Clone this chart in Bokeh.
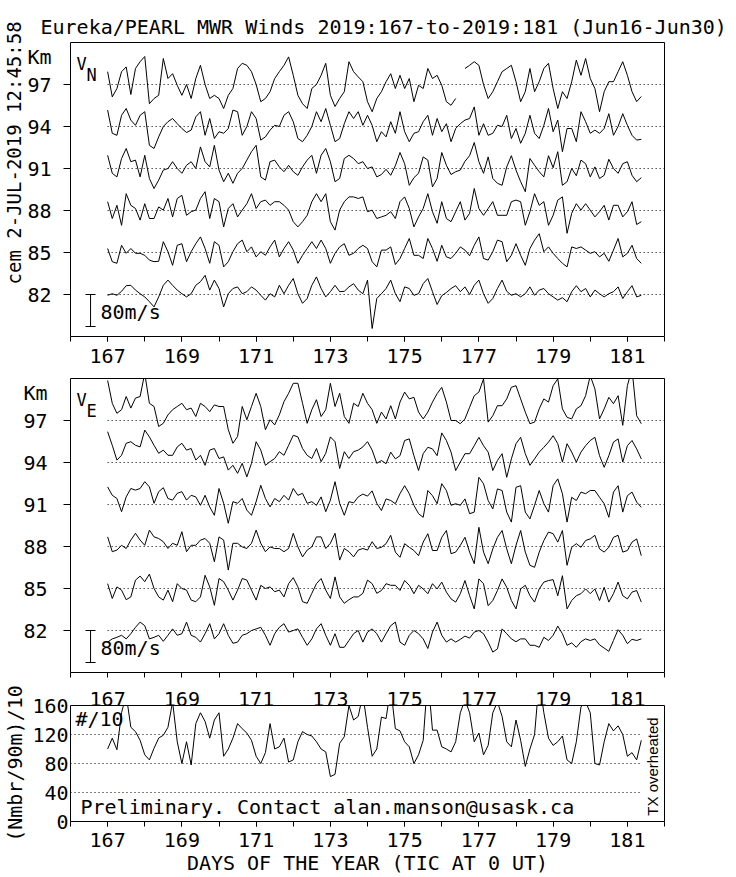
import numpy as np
from bokeh.plotting import figure
from bokeh.layouts import column
from bokeh.models import FixedTicker, Label, Range1d, LinearAxis, Title
from bokeh.embed import file_html
from bokeh.resources import INLINE

NaN = float("nan")

# ---------------- texts ----------------
TITLE = "Eureka/PEARL MWR Winds 2019:167-to-2019:181 (Jun16-Jun30)"
STAMP = "cem 2-JUL-2019 12:45:58"
X_TITLE = "DAYS OF THE YEAR (TIC AT 0 UT)"
COUNT_LABEL = "(Nmbr/90m)/10"
NOTE = "Preliminary. Contact alan.manson@usask.ca"
TX_NOTE = "TX overheated"
KM_LABEL = "Km"

# ---------------- axes / ticks ----------------
HEIGHTS_KM = [97, 94, 91, 88, 85, 82]
KM_LABEL_AT = 99
DAY_TICKS = [167, 169, 171, 173, 175, 177, 179, 181]
DAY_MINOR = list(range(166, 183))
COUNT_TICKS = [0, 40, 80, 120, 160]
COUNT_GRID = [40, 80, 120]
FIRST_DAY = 167.0
STEP_HOURS = 3          # samples read every 3 hours
SCALE_MS = 80           # scale bar 80 m/s
MS_PER_KM = 35.0        # 80 m/s spans 80/35 km of the height axis

# ---------------- V_N (m/s), 3-hourly from day 167.0 ----------------
VN_97 = [32,-31,-10,32,44,-25,40,57,70,-48,-35,-27,65,15,27,-2,-27,0,-35,15,
         48,0,-35,-27,-35,-60,-27,-10,40,53,48,32,0,-43,-35,-18,15,32,48,69,
         23,-27,-48,-60,-10,0,23,53,-27,-55,-35,-18,57,32,19,7,-43,-68,-35,
         -18,7,27,-10,23,-10,15,-43,-2,-10,40,15,23,-2,-43,-52,-35,NaN,40,48,
         57,48,0,-35,-18,7,32,40,48,7,-43,-18,40,-18,7,40,53,-10,-60,-18,
         -35,7,61,23,65,15,-10,-68,-18,7,7,32,57,23,-18,-43,-30]
VN_94 = [41,-17,-22,28,45,16,3,28,37,-47,-55,-26,0,12,20,7,-5,-15,-9,24,
         37,-22,20,-30,-13,-17,-5,41,37,-22,0,37,20,-34,-26,-9,3,0,28,37,
         12,-30,-38,-22,0,37,12,45,3,-38,-30,7,37,20,37,3,28,3,-38,
         -13,-26,12,-17,37,-13,-38,-17,-13,12,28,-22,20,-13,7,-38,-5,7,16,20,
         49,-22,7,-22,-17,3,0,28,-30,-5,-42,-17,28,-17,-30,3,45,-13,16,-63,
         -5,-5,-38,37,12,-17,-9,-17,-5,32,-22,0,32,3,-22,-34,-32]
VN_91 = [33,-12,-21,25,50,17,21,-21,33,-25,-50,-29,-4,0,17,0,-12,8,17,0,
         54,17,4,58,-4,-33,-12,-37,-12,0,21,42,58,-21,-29,17,21,4,-8,8,
         -8,-17,4,21,33,-12,33,50,17,-33,-25,25,33,25,12,17,0,4,-21,
         -15,-2,-17,7,40,12,-42,-23,-12,29,21,-46,-25,40,8,-15,-8,-4,18,32,
         65,17,-12,29,-25,-37,-42,4,32,-4,-33,-58,25,8,-8,-21,32,2,42,-42,
         -33,0,-18,21,12,-21,4,-25,-17,23,0,-12,12,17,-17,-33,-23]
VN_88 = [22,-20,13,-37,42,13,5,-24,17,-20,-20,9,1,30,-16,30,38,-12,-3,1,
         30,47,-20,30,22,-41,5,17,-16,1,17,42,5,22,26,13,22,22,13,1,
         -28,-41,-28,-12,22,42,22,42,-28,-49,1,22,34,34,30,34,-3,1,-20,
         -16,-12,-3,-20,22,34,5,-41,-16,5,42,-3,-32,22,-20,-28,-3,22,-24,-7,
         55,5,-12,5,22,-12,-12,-12,22,26,22,-37,-3,42,13,22,-37,-12,26,34,
         -57,-7,17,1,17,1,-16,-3,13,-24,13,13,-16,-3,22,-35,-28]
VN_85 = [10,-23,-27,18,-2,10,-2,-2,-7,-19,-23,-22,27,2,-32,18,22,-23,2,22,
         39,10,-27,27,18,-36,-23,2,22,31,2,14,-11,2,-7,14,31,-11,10,27,
         6,-27,-7,10,27,10,31,10,-27,-2,14,22,-7,-2,10,18,10,-23,-36,
         6,6,14,-30,-15,10,35,-7,-7,-15,35,10,-22,18,-11,-15,-2,14,6,-8,
         18,39,-15,-19,2,31,27,-23,-7,22,-7,-32,10,31,47,2,14,-2,-15,-27,
         -36,14,10,14,6,-2,2,-11,-2,-22,6,35,-11,-2,18,-15,-27]
VN_82 = [-2,2,-2,8,22,23,11,2,-6,-18,-31,-6,23,36,23,11,2,-6,2,23,
         32,48,11,36,15,-31,2,15,19,2,7,19,11,-2,-14,2,-6,23,2,23,
         40,2,-22,-10,23,44,15,-6,7,23,7,8,19,27,11,2,36,-85,-10,
         2,15,36,2,-18,19,15,-2,2,27,40,7,-25,-3,5,15,22,7,19,0,
         23,36,2,-22,-10,15,36,8,-2,2,-6,2,19,-2,11,15,2,-6,-14,-8,
         -18,7,22,7,15,-6,11,2,-6,2,7,19,-10,7,22,-6,-2]

# ---------------- V_E (m/s), 3-hourly from day 167.0 ----------------
VE_97 = [100,43,18,27,60,31,56,60,118,43,35,-15,-7,14,27,35,43,27,31,10,
         43,35,22,39,35,35,-23,-57,-40,35,2,35,68,35,-23,2,-11,14,47,68,
         93,93,43,-7,27,52,10,27,93,35,68,10,-7,43,35,68,43,27,-7,
         21,4,37,4,46,71,54,58,21,4,21,46,67,83,46,0,0,-8,4,33,
         62,71,104,-4,12,37,37,54,83,87,54,21,-8,-4,29,54,46,87,104,29,
         8,4,29,37,62,112,79,4,29,58,42,62,-12,87,129,12,-8]
VE_94 = [77,43,6,18,48,52,43,39,81,64,43,23,31,18,18,39,48,31,35,6,
         18,-7,31,35,10,14,-19,-7,-27,-2,-36,-2,52,31,-7,2,10,27,18,43,
         68,64,35,18,10,35,2,23,64,52,-15,27,10,27,31,39,52,31,-2,
         5,-3,26,9,17,55,59,17,-20,22,38,34,17,74,55,26,-20,1,22,22,
         42,63,42,26,-20,5,22,-37,9,47,63,22,-7,9,26,38,51,67,47,1,
         47,26,1,26,42,55,63,17,-12,17,51,59,1,42,55,34,9]
VE_91 = [44,23,15,-18,19,40,36,40,57,44,3,32,42,15,11,28,32,11,23,19,
         -2,23,-6,-27,40,3,-47,7,3,15,-14,-27,7,48,15,-6,15,7,23,11,
         40,23,28,3,7,-2,19,-18,11,57,3,-27,7,4,19,26,21,34,3,
         -15,14,10,2,27,47,27,-2,-23,-32,35,22,2,52,35,-2,2,-2,14,-23,
         -19,68,52,10,-11,39,35,-19,-44,43,47,-19,-36,-2,35,2,-19,47,64,27,
         -44,18,10,31,27,35,35,18,2,-32,31,47,-19,22,31,6,-7]
VE_88 = [24,-13,-9,3,-5,16,33,16,3,41,24,20,12,-5,8,3,37,-13,3,3,
         16,20,8,-38,24,16,-59,8,8,-1,-5,8,41,8,-13,-1,-5,-5,-13,-5,
         33,-1,-26,-9,-1,24,24,-5,8,33,-34,-5,-13,-26,-9,-5,-9,12,-5,
         -2,7,28,-14,-27,7,-2,-10,-23,11,32,-10,-10,23,40,-18,-14,3,23,-14,
         -43,48,-14,-43,-6,23,40,-6,-43,3,40,-14,-47,-52,-14,15,36,32,11,40,
         -47,-2,7,-2,15,19,28,-6,-14,-2,23,28,-14,-10,11,19,-23]
VE_85 = [12,-25,4,-4,-28,-21,21,31,17,36,0,-21,-29,-4,-33,12,0,-4,-29,-33,
         -21,33,4,-42,25,17,-4,-29,-4,25,21,-4,-29,8,0,4,-8,-4,-21,12,
         27,4,-33,-37,-12,12,25,-4,-25,29,-21,-37,-28,-21,-21,-12,21,12,-12,
         -5,12,8,8,-5,20,8,-13,8,-1,-13,12,-1,16,-9,-26,-34,-13,20,-18,
         -51,24,12,-43,-30,-5,24,3,-30,-51,-1,8,-18,-34,-1,16,20,22,-18,32,
         -51,-30,-18,-13,-1,-13,-1,-30,3,-34,-13,16,-18,-26,-9,-5,-34]
VE_82 = [-29,-21,-17,-12,-21,-8,8,21,12,-21,-17,-12,-27,-12,4,-12,-8,21,-12,-17,
         -29,-8,17,-21,-8,17,-12,-32,-29,-12,-8,0,4,8,-12,-37,-8,8,17,-4,
         0,4,-17,-37,-21,4,17,-12,-37,-8,-42,-42,-25,-8,0,-29,-4,4,-8,
         -29,-8,12,21,-29,-37,-12,0,-8,-21,-45,-4,21,-12,-29,-21,-29,-22,-14,-19,
         -4,0,-8,-29,-54,-46,4,-8,-21,-28,-21,-21,-37,-37,-42,-17,-25,-12,11,-8,
         -37,-31,-42,-28,-21,-25,-21,-36,-44,-52,-25,2,-12,-33,-22,-25,-21]

# ---------------- counts (#/10), 3-hourly from day 167.0 ----------------
COUNTS = [100,115,99,150,175,130,124,112,92,85,101,115,119,130,165,110,80,110,78,135,
          150,138,115,140,150,90,100,115,135,128,122,112,90,80,95,135,100,103,115,82,
          85,110,124,120,118,110,100,96,62,65,108,117,160,140,145,175,130,90,100,
          144,142,185,128,125,110,103,80,92,112,200,126,126,103,100,96,110,150,168,150,
          110,122,92,105,150,165,145,110,103,140,112,76,100,120,195,150,115,105,110,118,
          85,80,110,158,165,150,80,78,110,135,125,132,120,90,95,85,112]

VN_SERIES = [VN_97, VN_94, VN_91, VN_88, VN_85, VN_82]
VE_SERIES = [VE_97, VE_94, VE_91, VE_88, VE_85, VE_82]

FONT = "DejaVu Sans Mono"
FS = "20px"

times = FIRST_DAY + np.arange(len(COUNTS)) * STEP_HOURS / 24.0


def make_fig(height, top, bottom, y_range):
    p = figure(width=736, height=height, x_range=Range1d(166, 182), y_range=y_range,
               output_backend="svg", toolbar_location=None, tools="", title=None,
               min_border_left=70, min_border_right=72,
               min_border_top=top, min_border_bottom=bottom)
    p.outline_line_color = "black"
    p.outline_line_alpha = 1.0
    p.outline_line_width = 1
    p.xgrid.visible = False
    p.ygrid.visible = False
    p.background_fill_color = "white"
    p.border_fill_color = "white"
    return p


def style_axis(ax, tick_out, standoff, minor_out=None):
    ax.axis_line_color = None
    ax.major_tick_out = tick_out
    ax.major_tick_in = 0
    ax.minor_tick_out = tick_out if minor_out is None else minor_out
    ax.minor_tick_in = 0
    ax.major_tick_line_color = "black"
    ax.minor_tick_line_color = "black"
    ax.major_label_standoff = standoff
    ax.major_label_text_font = FONT
    ax.major_label_text_font_size = FS
    ax.major_label_text_color = "black"
    ax.axis_label_text_font = FONT
    ax.axis_label_text_font_size = FS
    ax.axis_label_text_font_style = "normal"
    ax.axis_label_text_color = "black"


def add_text(p, text, x, y, size=FS, font=FONT, align="left", angle=0.0):
    p.add_layout(Label(x=x, y=y, x_units="screen", y_units="screen", text=text,
                       text_font=font, text_font_size=size, text_align=align,
                       text_baseline="middle", angle=angle, text_color="black"))


def wind_panel(height, top, bottom, series, sub, x_labels, x_standoff, y_standoff):
    p = make_fig(height, top, bottom, Range1d(79, 100))
    n = len(HEIGHTS_KM)
    p.segment(x0=[FIRST_DAY] * n, x1=[p.x_range.end] * n, y0=HEIGHTS_KM, y1=HEIGHTS_KM,
              line_color="black", line_width=1, line_dash="1 3")
    for h, v in zip(HEIGHTS_KM, series):
        p.line(times, h + np.asarray(v, dtype=float) / MS_PER_KM,
               line_color="black", line_width=1)
    # 80 m/s scale bar hanging from the lowest height
    base = HEIGHTS_KM[-1]
    low = base - SCALE_MS / MS_PER_KM
    xb, cap = 166.54, 0.135
    p.segment(x0=[xb, xb - cap, xb - cap], x1=[xb, xb + cap, xb + cap],
              y0=[base, base, low], y1=[low, base, low], line_color="black", line_width=1)
    add_text(p, f"{SCALE_MS}m/s", 30, 25)
    # x axis: day tics (labels only when asked)
    if x_labels:
        p.xaxis.ticker = FixedTicker(ticks=DAY_TICKS, minor_ticks=DAY_MINOR)
        style_axis(p.xaxis[0], 5, x_standoff)
    else:
        p.xaxis.ticker = FixedTicker(ticks=[], minor_ticks=DAY_MINOR)
        style_axis(p.xaxis[0], 0, 0, minor_out=5)
    # y axis: labels at heights + "Km" caption, tic marks only at heights
    p.yaxis.ticker = FixedTicker(ticks=HEIGHTS_KM + [KM_LABEL_AT], minor_ticks=HEIGHTS_KM)
    style_axis(p.yaxis[0], 0, y_standoff, minor_out=7)
    p.yaxis.major_label_overrides = {KM_LABEL_AT: KM_LABEL}
    # component label
    add_text(p, "V", 6, 273, size="17px")
    add_text(p, sub, 16, 262, size="17px")
    return p


# ---------------- panel 1: V_N ----------------
p1 = wind_panel(370, 42, 34, VN_SERIES, "N", True, 7, 12)
p1.add_layout(Title(text=TITLE, align="left", offset=-30, standoff=8,
                    text_font=FONT, text_font_size=FS, text_font_style="normal",
                    text_color="black"), "above")
p1.add_layout(Title(text=STAMP, align="left", offset=52, standoff=0,
                    text_font=FONT, text_font_size="19px", text_font_style="normal",
                    text_color="black"), "left")

# ---------------- panel 2: V_E ----------------
p2 = wind_panel(312, 8, 10, VE_SERIES, "E", False, 0, 16)

# ---------------- panel 3: counts ----------------
p3 = make_fig(195, 23, 54, Range1d(0, 160))
p3.segment(x0=[p3.x_range.start] * len(COUNT_GRID), x1=[times[-1]] * len(COUNT_GRID),
           y0=COUNT_GRID, y1=COUNT_GRID, line_color="black", line_width=1, line_dash="1 3")
p3.line(times, COUNTS, line_color="black", line_width=1)
p3.xaxis.ticker = FixedTicker(ticks=DAY_TICKS, minor_ticks=DAY_MINOR)
style_axis(p3.xaxis[0], 5, 6)
p3.xaxis.axis_label = X_TITLE
p3.xaxis.axis_label_standoff = 1
top_axis = LinearAxis(ticker=FixedTicker(ticks=DAY_TICKS, minor_ticks=[]))
style_axis(top_axis, 0, 0)
p3.add_layout(top_axis, "above")
p3.yaxis.ticker = FixedTicker(ticks=COUNT_TICKS, minor_ticks=[])
style_axis(p3.yaxis[0], 0, 2)
p3.yaxis.axis_label = COUNT_LABEL
p3.yaxis.axis_label_standoff = 2
add_text(p3, "#/10", 5, 103)
add_text(p3, NOTE, 10, 15)
add_text(p3, TX_NOTE, 582, 55, size="15px", font="Liberation Sans", align="center", angle=np.pi / 2)

layout = column(p1, p2, p3, spacing=0)
open("out.html", "w").write(file_html(layout, INLINE))
